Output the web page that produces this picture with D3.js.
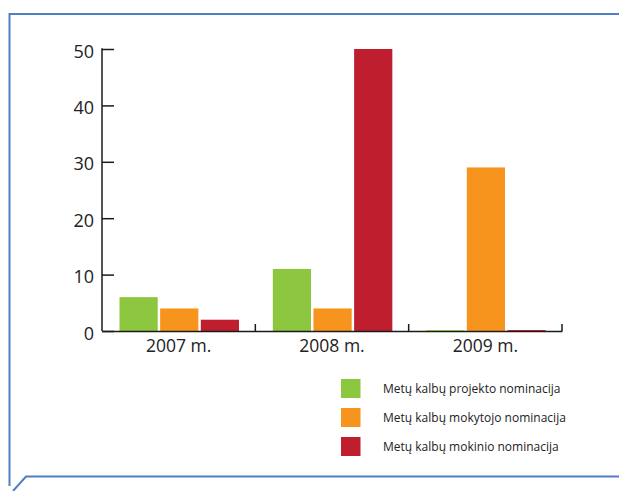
<!DOCTYPE html>
<html>
<head>
<meta charset="utf-8">
<script src="https://cdn.jsdelivr.net/npm/d3@7"></script>
<style>
  html, body { margin: 0; padding: 0; background: #fff; }
  svg { display: block; }
</style>
</head>
<body>
<svg id="chart" width="619" height="491"></svg>
<script>
const categories = ["2007 m.", "2008 m.", "2009 m."];
const seriesNames = [
  "Metų kalbų projekto nominacija",
  "Metų kalbų mokytojo nominacija",
  "Metų kalbų mokinio nominacija"
];
const projektoValues = [6, 11, 0];
const mokytojoValues = [4, 4, 29];
const mokinioValues = [2, 50, 0];
const yTicks = [0, 10, 20, 30, 40, 50];
const colors = ["#8dc63f", "#f7941d", "#be1e2d"];

const series = [projektoValues, mokytojoValues, mokinioValues];
const svg = d3.select("#chart");
const font = "'Open Sans', 'DejaVu Sans', sans-serif";

// frame
const frame = svg.append("g").attr("fill", "none").attr("stroke", "#4f7fc2").attr("stroke-width", 2);
frame.append("path").attr("d", "M9.5,14 H619");
frame.append("path").attr("d", "M9.5,13 V486");
frame.append("path").attr("d", "M13,491 L26,476.5 H619");

const x0 = d3.scaleBand().domain(categories).range([102, 562]).padding(0);
const x1 = d3.scaleBand().domain(d3.range(series.length)).range([17.5, 137]).paddingInner(0.06);
const y = d3.scaleLinear().domain([0, 50]).range([331, 49]);

// bars
const g = svg.append("g");
categories.forEach((c, ci) => {
  series.forEach((vals, si) => {
    const v = vals[ci];
    const h = Math.max(y(0) - y(v), 2);
    g.append("rect")
      .attr("x", x0(c) + x1(si))
      .attr("y", v === 0 ? y(0) - 1 : y(v))
      .attr("width", x1.bandwidth())
      .attr("height", v === 0 ? 2 : h)
      .attr("fill", v === 0 ? d3.color(colors[si]).brighter(0.5) : colors[si]);
  });
});

// y axis
const yAxis = svg.append("g")
  .attr("transform", "translate(102,0)")
  .call(d3.axisLeft(y).tickValues(yTicks).tickSize(-12).tickPadding(8).tickSizeOuter(0));
yAxis.select(".domain").attr("stroke", "#1a1a1a").attr("stroke-width", 1.5).attr("d", "M0,331V48.3");
yAxis.selectAll(".tick line").attr("stroke", "#1a1a1a").attr("stroke-width", 1.5);
yAxis.selectAll(".tick text")
  .attr("font-family", font).attr("font-size", 18).attr("fill", "#222")
  .attr("dy", "0.45em");

// x axis
const xAxis = svg.append("g")
  .attr("transform", "translate(0,331)")
  .call(d3.axisBottom(x0).tickSize(0).tickPadding(6));
xAxis.select(".domain").attr("stroke", "#1a1a1a").attr("stroke-width", 1.5);
xAxis.selectAll(".tick text")
  .attr("font-family", font).attr("font-size", 17.5).attr("fill", "#222")
  .attr("dy", "0.85em");
// group separator ticks
const seps = categories.slice(1).map(c => x0(c)).concat([x0.range()[1]]);
xAxis.selectAll(".sep").data(seps).join("line")
  .attr("x1", d => d).attr("x2", d => d)
  .attr("y1", 0).attr("y2", -7)
  .attr("stroke", "#1a1a1a").attr("stroke-width", 1.5);

// legend
const legend = svg.append("g").attr("transform", "translate(341,379)");
seriesNames.forEach((name, i) => {
  const row = legend.append("g").attr("transform", `translate(0,${i * 29})`);
  row.append("rect").attr("width", 19.5).attr("height", 19).attr("fill", colors[i]);
  row.append("text")
    .attr("x", 42).attr("y", 14)
    .attr("font-family", font).attr("font-size", 12).attr("fill", "#222")
    .text(name);
});
</script>
</body>
</html>
